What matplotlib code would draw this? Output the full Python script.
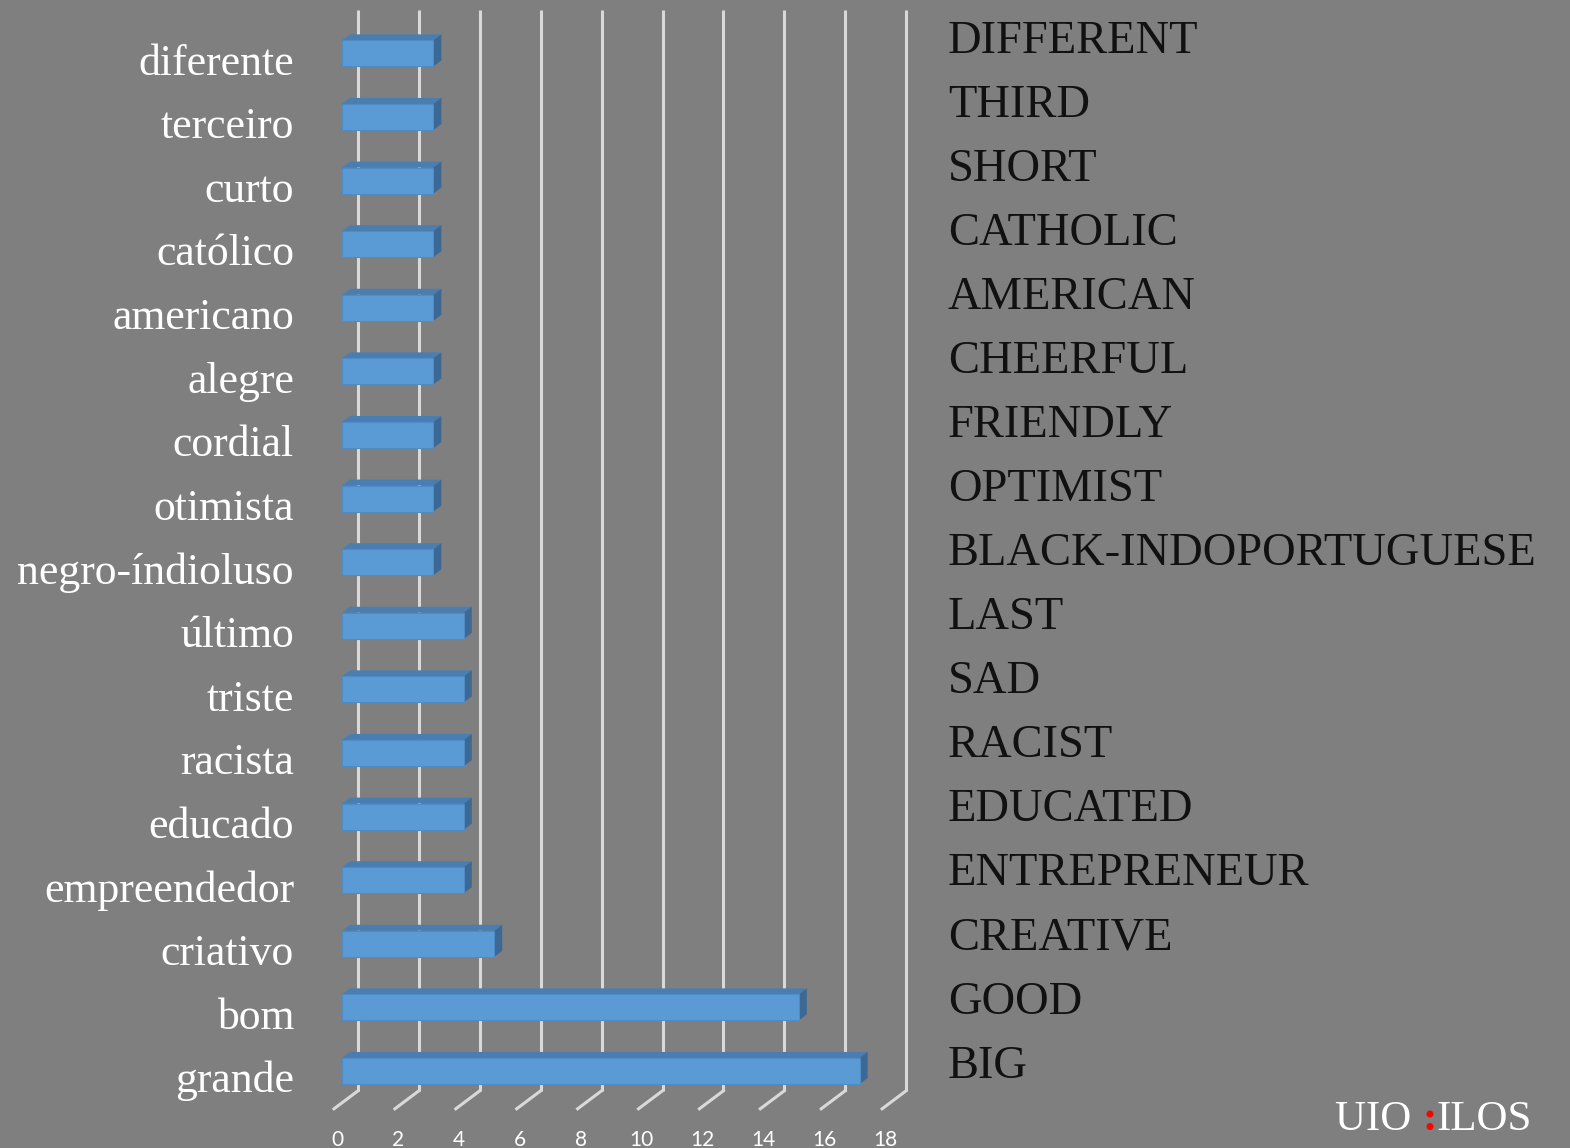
import matplotlib
matplotlib.use("Agg")
import matplotlib.pyplot as plt
import matplotlib.transforms as mtransforms
from matplotlib.patches import Polygon

# word counts, listed top to bottom
words_pt = ["diferente", "terceiro", "curto", "católico", "americano", "alegre",
            "cordial", "otimista", "negro-índioluso", "último", "triste",
            "racista", "educado", "empreendedor", "criativo", "bom", "grande"]
words_en = ["DIFFERENT", "THIRD", "SHORT", "CATHOLIC", "AMERICAN", "CHEERFUL",
            "FRIENDLY", "OPTIMIST", "BLACK-INDOPORTUGUESE", "LAST", "SAD",
            "RACIST", "EDUCATED", "ENTREPRENEUR", "CREATIVE", "GOOD", "BIG"]
counts = [3, 3, 3, 3, 3, 3, 3, 3, 3, 4, 4, 4, 4, 4, 5, 15, 17]
ticks = list(range(0, 20, 2))

BG = "#7f7f7f"
FRONT = "#5b9bd5"
TOP = "#4a7eb0"
SIDE = "#3c6893"
GRID = "#d9d9d9"

W, H = 1570, 1148
fig = plt.figure(figsize=(W / 100, H / 100), dpi=100, facecolor=BG)

# axes = the plane of the bar fronts
px_unit = 30.45
row = 63.6
x0 = 342
y_bottom = 1071 + row / 2
y_top = 1071 - row * 16.5
ax = fig.add_axes([x0 / W, (H - y_bottom) / H, 18 * px_unit / W, (y_bottom - y_top) / H])
ax.set_xlim(0, 18)
ax.set_ylim(-0.5, 16.5)
ax.axis("off")

# depth offsets (data units) for a 3d look
bx, by = 8 / px_unit, 6 / row       # bar thickness
wx, wy = 16 / px_unit, 12 / row     # back wall
fx, fy = -8 / px_unit, -6 / row     # front edge of floor

# back wall grid + floor diagonals
for t in ticks:
    ax.plot([t + wx, t + wx], [-0.5 + wy, 16.5 + wy], color=GRID, lw=2.2,
            zorder=1, clip_on=False, solid_capstyle="butt")
    ax.plot([t + wx, t + fx], [-0.5 + wy, -0.5 + fy], color=GRID, lw=2.2,
            zorder=1, clip_on=False)
    ax.text(t + fx + 0.1, -0.5 + fy - 0.33, str(t), color="white", fontsize=15,
            family="Lato", ha="center", va="top")

n = len(counts)
ypos = [n - 1 - i for i in range(n)]
h = 0.41
ax.barh(ypos, counts, height=h, color=FRONT, edgecolor="#4f8bc4", lw=0.8, zorder=3)
for y, v in zip(ypos, counts):
    top = [(0, y + h / 2), (v, y + h / 2), (v + bx, y + h / 2 + by), (bx, y + h / 2 + by)]
    side = [(v, y - h / 2), (v, y + h / 2), (v + bx, y + h / 2 + by), (v + bx, y - h / 2 + by)]
    ax.add_patch(Polygon(top, closed=True, facecolor=TOP, edgecolor="none", zorder=2, clip_on=False))
    ax.add_patch(Polygon(side, closed=True, facecolor=SIDE, edgecolor="none", zorder=2, clip_on=False))

# category labels on both sides (english column is spaced a touch wider)
lab_tr = mtransforms.blended_transform_factory(fig.transFigure, ax.transData)
for y, pt, en in zip(ypos, words_pt, words_en):
    ax.text(294 / W, y - 0.16, pt, transform=lab_tr, ha="right", va="center",
            color="white", fontsize=31.5, family="Liberation Serif")
    ax.text(948 / W, y + 0.074 + 0.0069 * y, en, transform=lab_tr, ha="left", va="center",
            color="#111111", fontsize=33.5, family="Liberation Serif")

# logo
fig.text(1335 / W, 1 - 1120 / H, "UIO ", color="white", fontsize=31,
         family="Liberation Serif", va="center", ha="left")
fig.text(1422 / W, 1 - 1120 / H, ":", color="red", fontsize=31, fontweight="bold",
         family="Liberation Serif", va="center", ha="left")
fig.text(1436 / W, 1 - 1120 / H, "ILOS", color="white", fontsize=31,
         family="Liberation Serif", va="center", ha="left")

fig.savefig("out.png", dpi=100, facecolor=BG)
